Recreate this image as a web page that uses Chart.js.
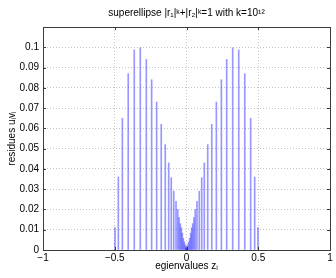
<!DOCTYPE html>
<html>
<head>
<meta charset="utf-8">
<script src="https://cdn.jsdelivr.net/npm/chart.js@4/dist/chart.umd.min.js"></script>
<style>
  html, body { margin: 0; padding: 0; background: #fff; }
  canvas { display: block; }
</style>
</head>
<body>
<canvas id="chart" width="336" height="278"></canvas>
<script>
// eigenvalues z_i (x) and residues u_i v_i (y)
const eigenvalues = [
  -0.498, -0.475, -0.447, -0.406, -0.364, -0.322, -0.280, -0.243, -0.208, -0.176,
  -0.148, -0.124, -0.106, -0.089, -0.073, -0.061, -0.052, -0.043, -0.036, -0.029,
  -0.022, -0.015, -0.008, -0.005, -0.003, -0.0015,
  0.0015, 0.003, 0.005, 0.008, 0.015, 0.022, 0.029, 0.036, 0.043, 0.052,
  0.061, 0.073, 0.089, 0.106, 0.124, 0.148, 0.176, 0.208, 0.243, 0.280,
  0.322, 0.364, 0.406, 0.447, 0.475, 0.498
];
const residues = [
  0.011, 0.036, 0.065, 0.087, 0.0987, 0.0997, 0.094, 0.084, 0.073, 0.062,
  0.052, 0.043, 0.0357, 0.029, 0.024, 0.020, 0.016, 0.013, 0.011, 0.0083,
  0.0058, 0.004, 0.0025, 0.0015, 0.0009, 0.0005,
  0.0005, 0.0009, 0.0015, 0.0025, 0.004, 0.0058, 0.0083, 0.011, 0.013, 0.016,
  0.020, 0.024, 0.029, 0.0357, 0.043, 0.052, 0.062, 0.073, 0.084, 0.094,
  0.0997, 0.0987, 0.087, 0.065, 0.036, 0.011
];
const xTicks = [-1, -0.5, 0, 0.5, 1];
const yTicks = [0, 0.01, 0.02, 0.03, 0.04, 0.05, 0.06, 0.07, 0.08, 0.09, 0.1];

const FONT = 'Liberation Sans, Arial, Helvetica, sans-serif';

function fmt(v) {
  const s = String(Math.round(v * 100) / 100);
  return s.replace('-', '\u2212');
}

// box around the axes plus MATLAB-style inside tick marks
const boxPlugin = {
  id: 'box',
  afterDraw(chart) {
    const { ctx, chartArea: a, scales } = chart;
    ctx.save();
    ctx.strokeStyle = '#3c3c3c';
    ctx.lineWidth = 1;
    ctx.beginPath();
    xTicks.forEach(v => {
      const px = Math.round(scales.x.getPixelForValue(v)) + 0.5;
      ctx.moveTo(px, a.bottom); ctx.lineTo(px, a.bottom - 3);
      ctx.moveTo(px, a.top); ctx.lineTo(px, a.top + 3);
    });
    yTicks.forEach(v => {
      const py = Math.round(scales.y.getPixelForValue(v)) + 0.5;
      ctx.moveTo(a.left, py); ctx.lineTo(a.left + 3, py);
      ctx.moveTo(a.right, py); ctx.lineTo(a.right - 3, py);
    });
    ctx.stroke();
    ctx.strokeRect(Math.round(a.left) + 0.5, Math.round(a.top) + 0.5,
      Math.round(a.right - a.left), Math.round(a.bottom - a.top));
    ctx.restore();
  }
};

new Chart(document.getElementById('chart'), {
  type: 'bar',
  data: {
    datasets: [{
      data: eigenvalues.map((z, i) => ({ x: z, y: residues[i] })),
      backgroundColor: 'rgba(50,50,255,0.5)',
      barThickness: 1,
      borderWidth: 0
    }]
  },
  options: {
    responsive: false,
    animation: false,
    devicePixelRatio: 1,
    layout: { padding: { left: 0, right: 6, top: 0, bottom: 0 } },
    plugins: {
      legend: { display: false },
      tooltip: { enabled: false },
      title: {
        display: true,
        fullSize: false,
        text: 'superellipse |r\u2081|\u1D4F+|r\u2082|\u1D4F=1 with k=10\u00B9\u00B2',
        color: '#000',
        font: { family: FONT, size: 10, weight: 'normal' },
        padding: { top: 7, bottom: 8 }
      }
    },
    scales: {
      x: {
        type: 'linear',
        min: -1,
        max: 1,
        offset: false,
        afterFit: s => { s.height = 28; },
        ticks: {
          stepSize: 0.5,
          color: '#000',
          font: { family: FONT, size: 10 },
          padding: 2,
          maxRotation: 0,
          autoSkip: false,
          callback: v => fmt(v)
        },
        grid: {
          offset: false,
          drawTicks: false,
          color: '#c4c4c4',
          lineWidth: 1
        },
        border: { display: true, color: '#3c3c3c', dash: [1, 2] },
        title: {
          display: true,
          text: 'egienvalues z\u1D62',
          color: '#000',
          font: { family: FONT, size: 10 },
          padding: { top: 0, bottom: 6 }
        }
      },
      y: {
        min: 0,
        max: 0.11,
        afterFit: s => { s.width = 43; },
        ticks: {
          stepSize: 0.01,
          color: '#000',
          font: { family: FONT, size: 10 },
          padding: 4,
          autoSkip: false,
          callback: v => (v > 0.105 ? '' : fmt(v))
        },
        grid: {
          drawTicks: false,
          color: '#c4c4c4',
          lineWidth: 1
        },
        border: { display: true, color: '#3c3c3c', dash: [1, 2] },
        title: {
          display: true,
          text: 'residues u\u1D62v\u1D62',
          color: '#000',
          font: { family: FONT, size: 10 },
          padding: { top: 6, bottom: 0 }
        }
      }
    }
  },
  plugins: [boxPlugin]
});
</script>
</body>
</html>
